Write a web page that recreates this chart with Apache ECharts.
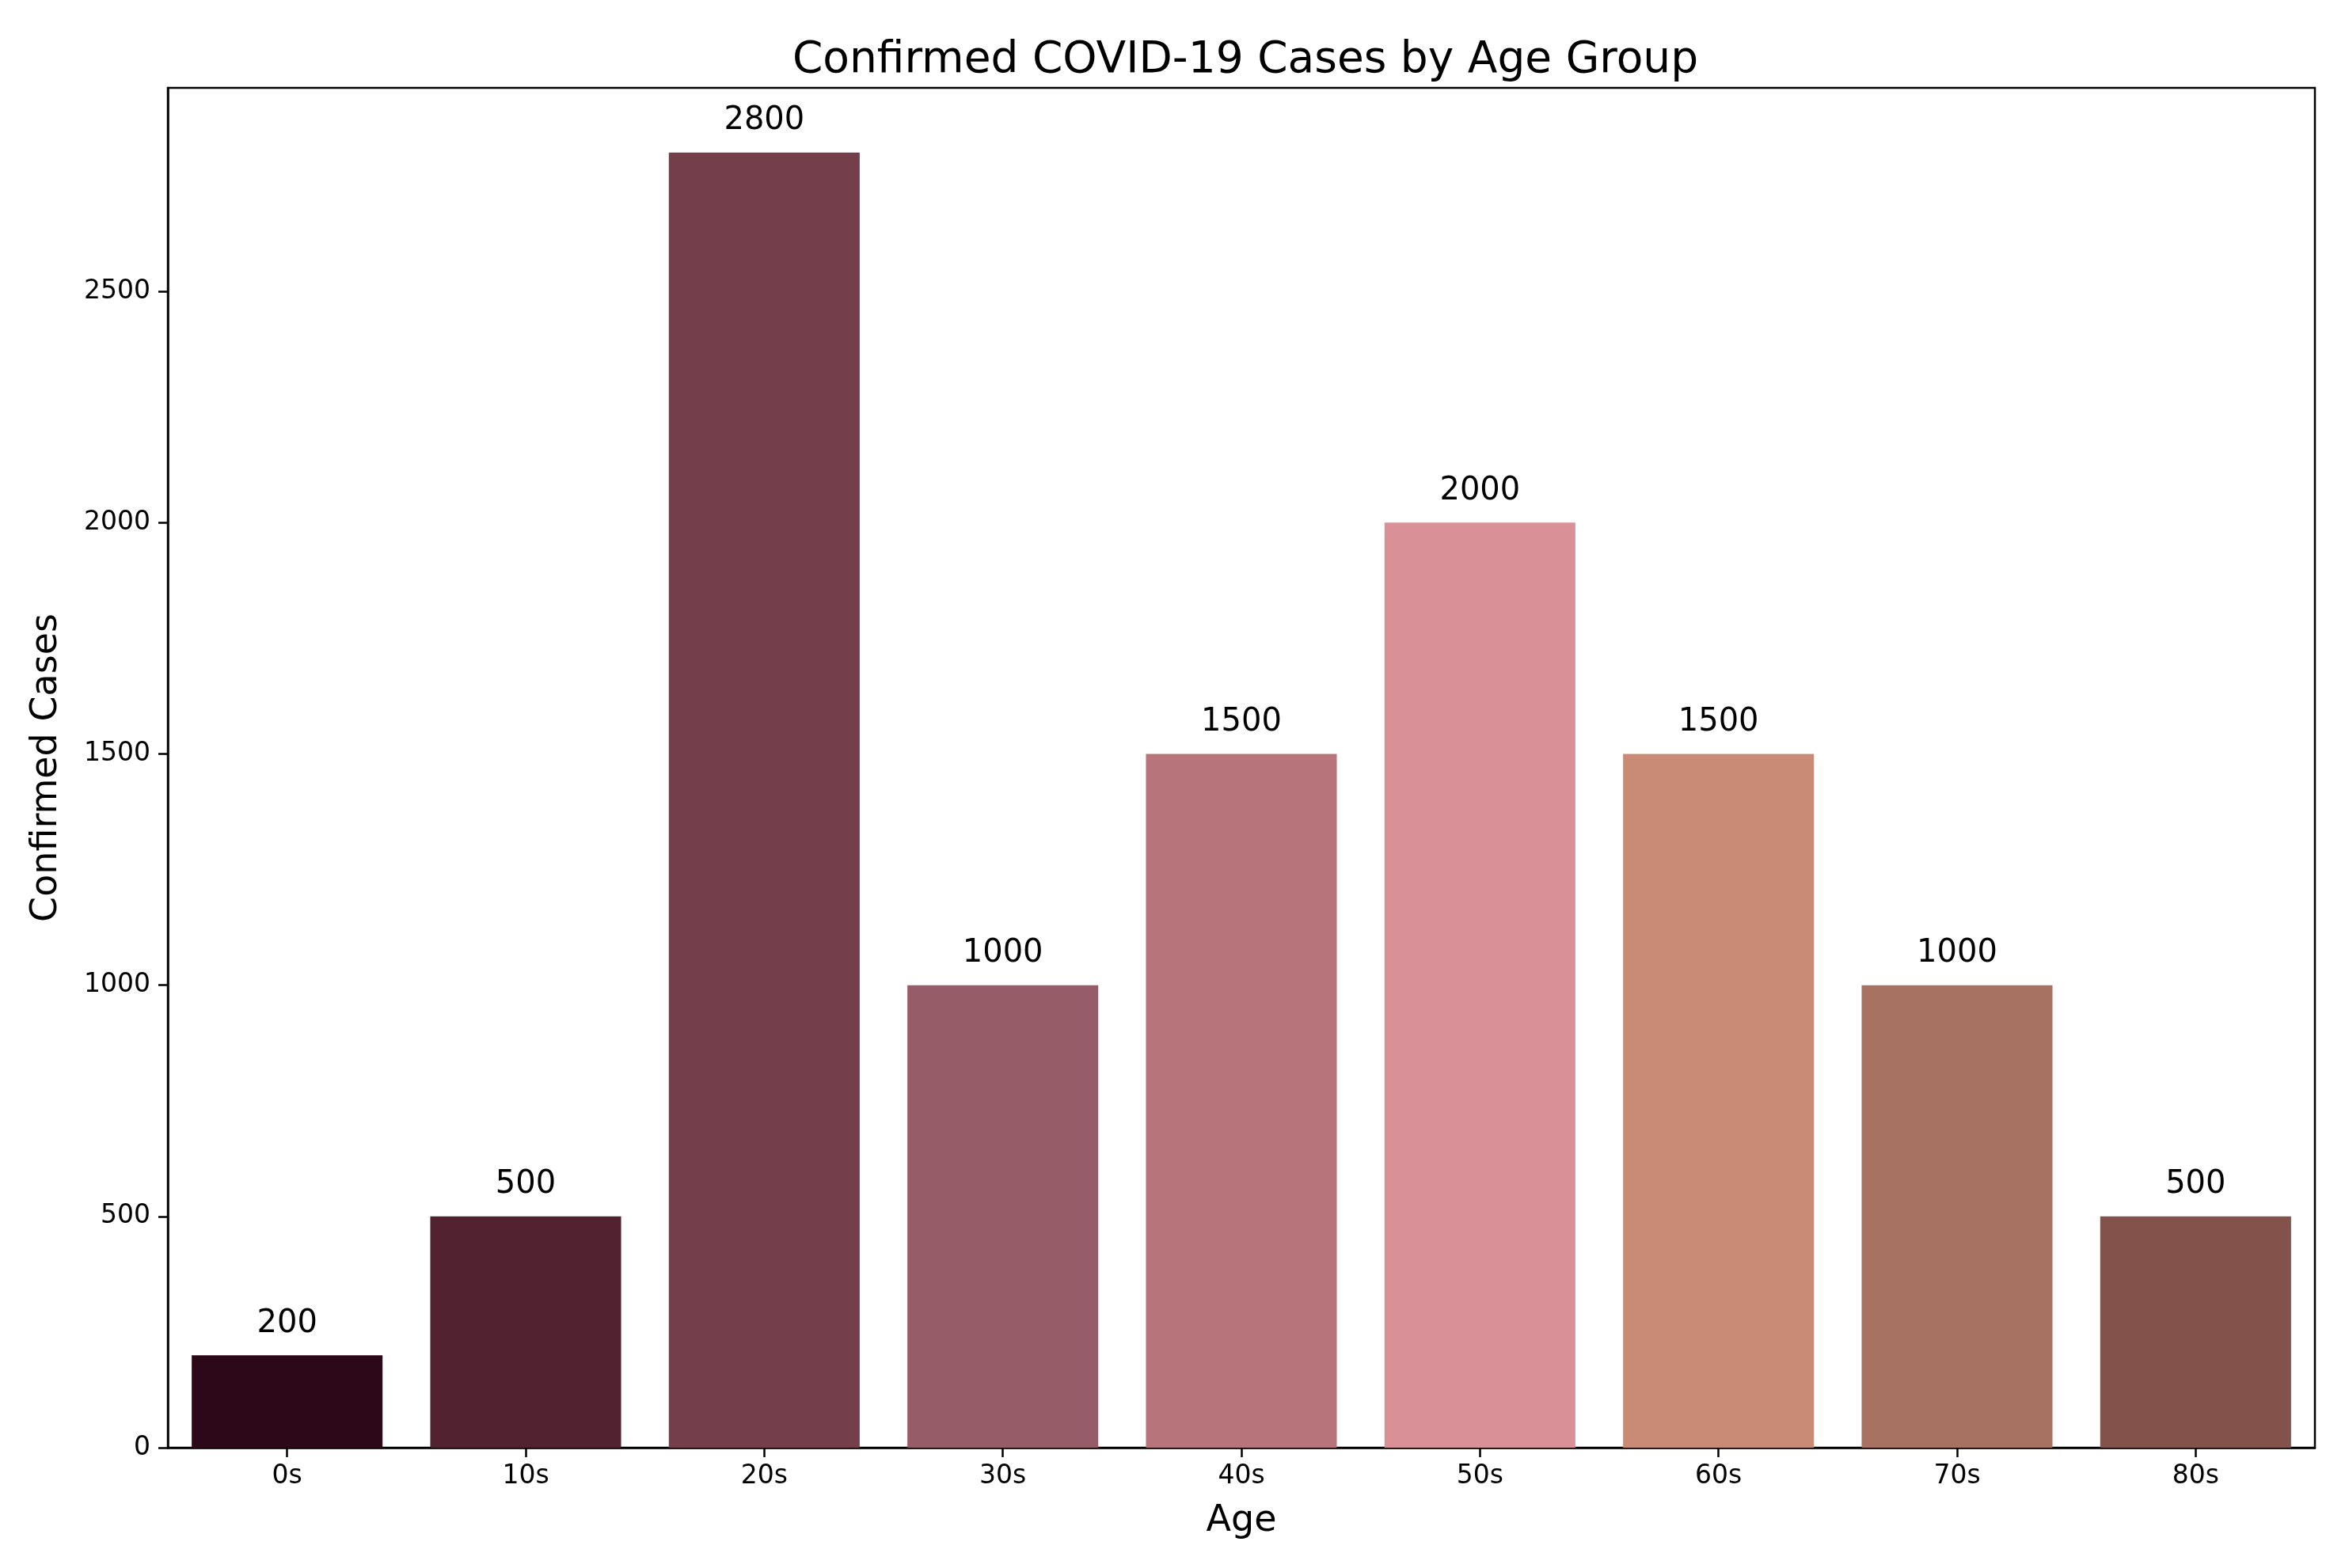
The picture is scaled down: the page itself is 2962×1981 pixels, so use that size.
<!DOCTYPE html>
<html>
<head>
<meta charset="utf-8">
<script src="https://cdn.jsdelivr.net/npm/echarts@6/dist/echarts.min.js"></script>
<style>
html,body{margin:0;padding:0;background:#fff;}
#chart{width:2962px;height:1981px;}
</style>
</head>
<body>
<div id="chart"></div>
<script>
const categories = ['0s','10s','20s','30s','40s','50s','60s','70s','80s'];
const cases = [200, 500, 2800, 1000, 1500, 2000, 1500, 1000, 500];
const barColors = ['#2d0819','#522230','#743e4b','#965c67','#b7757b','#d99096','#ca8b76','#a87262','#83524a'];
const yTicks = [0, 500, 1000, 1500, 2000, 2500];

const chart = echarts.init(document.getElementById('chart'));
const font = 'DejaVu Sans';
chart.setOption({
  backgroundColor: '#ffffff',
  animation: false,
  title: {
    text: 'Confirmed COVID-19 Cases by Age Group',
    left: 1568, top: 44, textAlign: 'center',
    textStyle: {fontFamily: font, fontSize: 55, fontWeight: 'normal', color: '#000'}
  },
  grid: {
    left: 212, right: 38, top: 111, bottom: 152,
    show: true, borderColor: '#000', borderWidth: 2.5, backgroundColor: 'transparent'
  },
  xAxis: {
    type: 'category',
    data: categories,
    name: 'Age', nameLocation: 'middle', nameGap: 70,
    nameTextStyle: {fontFamily: font, fontSize: 46, color: '#000'},
    axisLine: {show: true, lineStyle: {color: '#000', width: 2.5}},
    axisTick: {show: true, alignWithLabel: true, length: 12, lineStyle: {color: '#000', width: 2.5}},
    axisLabel: {fontFamily: font, fontSize: 33, color: '#000', margin: 20},
    splitLine: {show: false}
  },
  yAxis: {
    type: 'value',
    min: 0, max: 2940, interval: 500,
    name: 'Confirmed Cases', nameLocation: 'middle', nameGap: 130,
    nameTextStyle: {fontFamily: font, fontSize: 46, color: '#000'},
    axisLine: {show: true, lineStyle: {color: '#000', width: 2.5}},
    axisTick: {show: true, length: 12, lineStyle: {color: '#000', width: 2.5}},
    axisLabel: {
      fontFamily: font, fontSize: 33, color: '#000', margin: 22,
      showMaxLabel: false,
      formatter: v => yTicks.includes(v) ? String(v) : ''
    },
    splitLine: {show: false}
  },
  series: [{
    type: 'bar',
    barCategoryGap: '20%',
    data: cases.map((v, i) => ({value: v, itemStyle: {color: barColors[i]}})),
    label: {
      show: true, position: 'top', distance: 20,
      fontFamily: font, fontSize: 40, color: '#000'
    }
  }]
});
</script>
</body>
</html>
